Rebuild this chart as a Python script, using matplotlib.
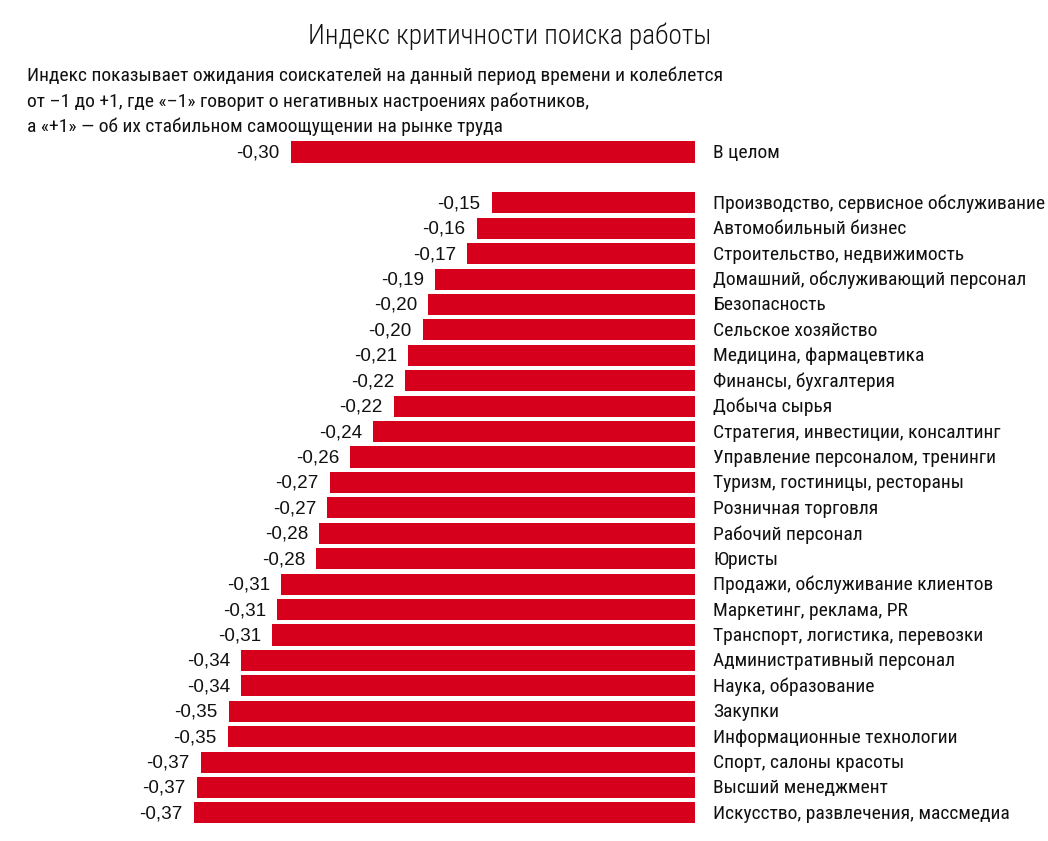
import matplotlib
matplotlib.use("Agg")
import matplotlib.pyplot as plt

plt.rcParams['font.family'] = ['Roboto Condensed', 'DejaVu Sans']

title = "Индекс критичности поиска работы"
subtitle = ("Индекс показывает ожидания соискателей на данный период времени и колеблется\n"
            "от –1 до +1, где «–1» говорит о негативных настроениях работников,\n"
            "а «+1» — об их стабильном самоощущении на рынке труда")

overall_label = "В целом"
overall_value = -0.300
overall_text = "-0,30"

categories = [
    "Производство, сервисное обслуживание",
    "Автомобильный бизнес",
    "Строительство, недвижимость",
    "Домашний, обслуживающий персонал",
    "Безопасность",
    "Сельское хозяйство",
    "Медицина, фармацевтика",
    "Финансы, бухгалтерия",
    "Добыча сырья",
    "Стратегия, инвестиции, консалтинг",
    "Управление персоналом, тренинги",
    "Туризм, гостиницы, рестораны",
    "Розничная торговля",
    "Рабочий персонал",
    "Юристы",
    "Продажи, обслуживание клиентов",
    "Маркетинг, реклама, PR",
    "Транспорт, логистика, перевозки",
    "Административный персонал",
    "Наука, образование",
    "Закупки",
    "Информационные технологии",
    "Спорт, салоны красоты",
    "Высший менеджмент",
    "Искусство, развлечения, массмедиа",
]
values = [-0.151, -0.162, -0.169, -0.193, -0.198, -0.202, -0.213, -0.215, -0.2235,
          -0.239, -0.256, -0.271, -0.273, -0.279, -0.281, -0.307, -0.310, -0.314,
          -0.337, -0.337, -0.346, -0.347, -0.367, -0.370, -0.372]
value_texts = ["-0,15", "-0,16", "-0,17", "-0,19", "-0,20", "-0,20", "-0,21", "-0,22", "-0,22",
               "-0,24", "-0,26", "-0,27", "-0,27", "-0,28", "-0,28", "-0,31", "-0,31", "-0,31",
               "-0,34", "-0,34", "-0,35", "-0,35", "-0,37", "-0,37", "-0,37"]

RED = "#d6001c"
W, H = 1048, 841
fig = plt.figure(figsize=(W / 100, H / 100), dpi=100)

step = 25.42
y0 = 152.0
top_px = y0 - 0.5 * step
bot_px = y0 + 26.5 * step
right_px = 695
scale = 1347.0

ax = fig.add_axes([0, 1 - bot_px / H, right_px / W, (bot_px - top_px) / H])
ax.set_xlim(-right_px / scale, 0)
ax.set_ylim(26.5, -0.5)
ax.axis('off')

labels = [overall_label] + categories
vals = [overall_value] + values
texts = [overall_text] + value_texts
pos = [0] + list(range(2, 2 + len(categories)))

ax.barh(pos, vals, height=0.83, color=RED, edgecolor='none')
for p, v, t, lab in zip(pos, vals, texts, labels):
    ax.annotate(t, (v, p), xytext=(-8, -0.7), textcoords='offset points',
                ha='right', va='center', fontsize=13.6, color='#111111',
                family=['Liberation Sans', 'DejaVu Sans'])
    ax.annotate(lab, (0, p), xytext=(13, -0.7), textcoords='offset points',
                ha='left', va='center', fontsize=14, color='#111111', annotation_clip=False)

fig.text(510 / W, 1 - 36 / H, title, ha='center', va='center', fontsize=19.7,
         fontweight='light', color='#111111')
fig.text(27 / W, 1 - 66.5 / H, subtitle, ha='left', va='top', fontsize=14, color='#111111',
         linespacing=1.49)

fig.savefig("out.png", dpi=100)
